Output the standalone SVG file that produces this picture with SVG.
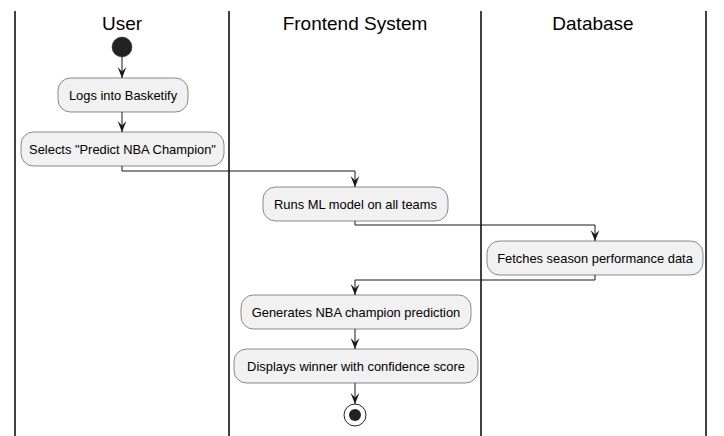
<svg xmlns="http://www.w3.org/2000/svg" width="724" height="436" viewBox="0 0 724 436">
<defs>
<style>
.lane{stroke:#000;stroke-width:1.5;fill:none}
.title{font-family:"Liberation Sans","DejaVu Sans",sans-serif;font-size:19px;fill:#000;text-anchor:middle}
.box{fill:#F1F1F1;stroke:#181818;stroke-width:0.5}
.lbl{font-family:"Liberation Sans","DejaVu Sans",sans-serif;font-size:12.9px;fill:#000;text-anchor:middle}
.edge{stroke:#181818;stroke-width:1;fill:none}
</style>
<marker id="arr" viewBox="0 0 10 10" refX="10" refY="5" markerWidth="11" markerHeight="11" markerUnits="userSpaceOnUse" orient="auto">
<path d="M0,1 L10,5 L0,9 L4,5 Z" fill="#181818"/>
</marker>
</defs>
<rect width="724" height="436" fill="#fff"/>
<g id="lanes">
<line class="lane" x1="15" y1="11" x2="15" y2="436"/>
<line class="lane" x1="229" y1="11" x2="229" y2="436"/>
<line class="lane" x1="481" y1="11" x2="481" y2="436"/>
<line class="lane" x1="706" y1="11" x2="706" y2="436"/>
<text class="title" x="122" y="30">User</text>
<text class="title" x="355" y="30">Frontend System</text>
<text class="title" x="593" y="30">Database</text>
</g>
<g id="connectors">
<path class="edge" d="M122,57 V78" marker-end="url(#arr)"/>
<path class="edge" d="M122,112 V132" marker-end="url(#arr)"/>
<path class="edge" d="M122,166 V171 H355 V187" marker-end="url(#arr)"/>
<path class="edge" d="M355,221 V225 H595 V241" marker-end="url(#arr)"/>
<path class="edge" d="M595,275 V280 H355 V295" marker-end="url(#arr)"/>
<path class="edge" d="M355,329 V349" marker-end="url(#arr)"/>
<path class="edge" d="M355,383 V404" marker-end="url(#arr)"/>
</g>
<g id="start"><circle cx="122" cy="47" r="10" fill="#222" stroke="#222" stroke-width="0.5"/></g>
<g id="n1"><rect class="box" x="58" y="78" width="130" height="34" rx="12.5"/><text class="lbl" x="123" y="99.5">Logs into Basketify</text></g>
<g id="n2"><rect class="box" x="21" y="132" width="203" height="34" rx="12.5"/><text class="lbl" x="122.5" y="153.5">Selects "Predict NBA Champion"</text></g>
<g id="n3"><rect class="box" x="263" y="187" width="185" height="34" rx="12.5"/><text class="lbl" x="355.5" y="208.5">Runs ML model on all teams</text></g>
<g id="n4"><rect class="box" x="487" y="241" width="216" height="34" rx="12.5"/><text class="lbl" x="595" y="262.5">Fetches season performance data</text></g>
<g id="n5"><rect class="box" x="241" y="295" width="230" height="34" rx="12.5"/><text class="lbl" x="356" y="316.5">Generates NBA champion prediction</text></g>
<g id="n6"><rect class="box" x="234" y="349" width="244" height="34" rx="12.5"/><text class="lbl" x="356" y="370.5">Displays winner with confidence score</text></g>
<g id="end"><circle cx="355" cy="415" r="11" fill="none" stroke="#222" stroke-width="1"/><circle cx="355" cy="415" r="6" fill="#222"/></g>
</svg>
